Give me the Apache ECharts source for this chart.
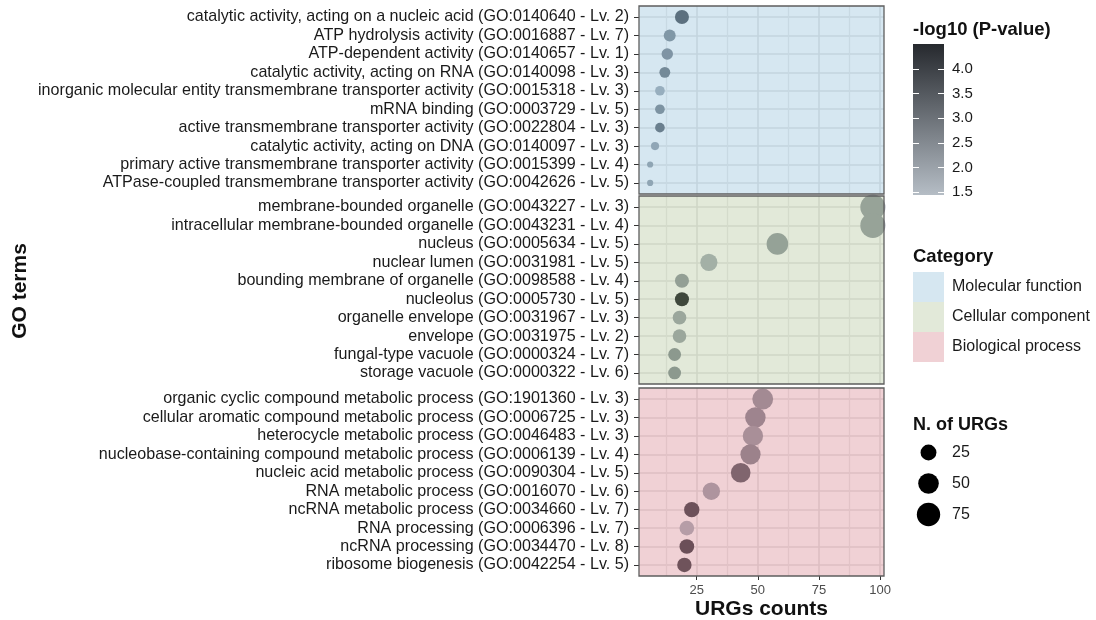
<!DOCTYPE html>
<html>
<head>
<meta charset="utf-8">
<script src="https://cdn.jsdelivr.net/npm/echarts@6/dist/echarts.min.js"></script>
<style>
html,body{margin:0;padding:0;background:#fff;}
#chart{width:1096px;height:620px;}
</style>
</head>
<body>
<div id="chart"></div>
<script>
// ---------------- data ----------------
const mfTerms = [
  "catalytic activity, acting on a nucleic acid (GO:0140640 - Lv. 2)",
  "ATP hydrolysis activity (GO:0016887 - Lv. 7)",
  "ATP-dependent activity (GO:0140657 - Lv. 1)",
  "catalytic activity, acting on RNA (GO:0140098 - Lv. 3)",
  "inorganic molecular entity transmembrane transporter activity (GO:0015318 - Lv. 3)",
  "mRNA binding (GO:0003729 - Lv. 5)",
  "active transmembrane transporter activity (GO:0022804 - Lv. 3)",
  "catalytic activity, acting on DNA (GO:0140097 - Lv. 3)",
  "primary active transmembrane transporter activity (GO:0015399 - Lv. 4)",
  "ATPase-coupled transmembrane transporter activity (GO:0042626 - Lv. 5)"
];
const mfCounts = [19, 14, 13, 12, 10, 10, 10, 8, 6, 6];
const mfLogP   = [3.35, 2.3, 2.35, 2.65, 1.65, 2.4, 2.95, 1.85, 1.9, 1.9];

const ccTerms = [
  "membrane-bounded organelle (GO:0043227 - Lv. 3)",
  "intracellular membrane-bounded organelle (GO:0043231 - Lv. 4)",
  "nucleus (GO:0005634 - Lv. 5)",
  "nuclear lumen (GO:0031981 - Lv. 5)",
  "bounding membrane of organelle (GO:0098588 - Lv. 4)",
  "nucleolus (GO:0005730 - Lv. 5)",
  "organelle envelope (GO:0031967 - Lv. 3)",
  "envelope (GO:0031975 - Lv. 2)",
  "fungal-type vacuole (GO:0000324 - Lv. 7)",
  "storage vacuole (GO:0000322 - Lv. 6)"
];
const ccCounts = [97, 97, 58, 30, 19, 19, 18, 18, 16, 16];
const ccLogP   = [2.0, 2.0, 2.05, 1.65, 2.1, 4.5, 1.9, 1.9, 2.3, 2.3];

const bpTerms = [
  "organic cyclic compound metabolic process (GO:1901360 - Lv. 3)",
  "cellular aromatic compound metabolic process (GO:0006725 - Lv. 3)",
  "heterocycle metabolic process (GO:0046483 - Lv. 3)",
  "nucleobase-containing compound metabolic process (GO:0006139 - Lv. 4)",
  "nucleic acid metabolic process (GO:0090304 - Lv. 5)",
  "RNA metabolic process (GO:0016070 - Lv. 6)",
  "ncRNA metabolic process (GO:0034660 - Lv. 7)",
  "RNA processing (GO:0006396 - Lv. 7)",
  "ncRNA processing (GO:0034470 - Lv. 8)",
  "ribosome biogenesis (GO:0042254 - Lv. 5)"
];
const bpCounts = [52, 49, 48, 47, 43, 31, 23, 21, 21, 20];
const bpLogP   = [2.05, 2.2, 1.9, 2.25, 3.05, 1.75, 3.6, 1.5, 3.65, 3.55];

const categoryNames = ["Molecular function", "Cellular component", "Biological process"];
const xTicks = [25, 50, 75, 100];
const xMinorTicks = [12.5, 37.5, 62.5, 87.5];
const colorbarTicks = [1.5, 2.0, 2.5, 3.0, 3.5, 4.0];
const sizeLegendValues = [25, 50, 75];

// ---------------- styles ----------------
const FONT = "'Liberation Sans', Arial, Helvetica, sans-serif";
const panelColors = ["#d6e7f1", "#e2e9d9", "#f0d1d5"];           // as seen (legend keys)
const panelOverlays = ["rgba(91,159,199,0.25)", "rgba(139,167,103,0.25)", "rgba(195,71,87,0.25)"];
const lowColor = "#b5bdc5", highColor = "#26292e";
const pMin = 1.44, pMax = 4.51;
const xMin = 1.45, xMax = 101.55;
const panelTops = [6, 196, 388];
const panelH = 188, panelLeft = 639, panelW = 245;

function dotSize(v) { return Math.max(3, 6.8 * Math.log(v) - 6.0); }

const termSets = [mfTerms, ccTerms, bpTerms];
const countSets = [mfCounts, ccCounts, bpCounts];
const pSets = [mfLogP, ccLogP, bpLogP];

const grids = [], xAxes = [], yAxes = [], series = [];
const idx10 = mfTerms.map((_, i) => i);

for (let k = 0; k < 3; k++) {
  grids.push({
    left: panelLeft, top: panelTops[k], width: panelW, height: panelH,
    show: true, backgroundColor: panelOverlays[k], z: 3,
    borderColor: '#5e5e5e', borderWidth: 1.3, outerBoundsMode: 'none'
  });
  const isBottom = k === 2;
  // main x axis
  xAxes.push({
    type: 'value', gridIndex: k, min: xMin, max: xMax, position: 'bottom',
    axisLine: { show: false, onZero: false },
    axisTick: { show: isBottom, customValues: xTicks, length: 4, lineStyle: { color: '#333', width: 1 } },
    axisLabel: { show: isBottom, customValues: xTicks, margin: 8, fontSize: 13, color: '#4d4d4d', fontFamily: FONT },
    splitLine: { show: true, lineStyle: { color: '#e6e6e6', width: 1.6 } },
    name: isBottom ? 'URGs counts' : '',
    nameLocation: 'middle', nameGap: 23,
    nameTextStyle: { fontSize: 21, fontWeight: 'bold', color: '#111', fontFamily: FONT }
  });
  // minor x axis (gridlines only)
  xAxes.push({
    type: 'value', gridIndex: k, min: xMin, max: xMax, position: 'top',
    axisLine: { show: false, onZero: false },
    axisTick: { show: false, customValues: xMinorTicks },
    axisLabel: { show: false, customValues: xMinorTicks },
    splitLine: { show: true, lineStyle: { color: '#ececec', width: 1.2 } }
  });
  const terms = termSets[k];
  yAxes.push({
    type: 'value', gridIndex: k, min: -0.6, max: 9.6, inverse: true, position: 'left',
    axisLine: { show: false, onZero: false },
    axisTick: { show: true, customValues: idx10, length: 5, lineStyle: { color: '#333', width: 1 } },
    axisLabel: {
      show: true, customValues: idx10, margin: 10, fontSize: 16.1, color: '#1a1a1a', fontFamily: FONT,
      formatter: v => terms[Math.round(v)]
    },
    splitLine: { show: true, lineStyle: { color: '#e6e6e6', width: 1.6 } }
  });
  series.push({
    type: 'scatter', name: categoryNames[k],
    xAxisIndex: 2 * k, yAxisIndex: k, z: 2,
    data: countSets[k].map((c, i) => [c, i, pSets[k][i]]),
    symbolSize: v => dotSize(v[0]),
    itemStyle: { opacity: 1 },
    clip: true
  });
}

// colorbar grid (index 3)
grids.push({
  left: 913, top: 44, width: 31, height: 151, show: true,
  backgroundColor: { type: 'linear', x: 0, y: 0, x2: 0, y2: 1,
    colorStops: [{ offset: 0, color: highColor }, { offset: 1, color: lowColor }] },
  borderWidth: 0, outerBoundsMode: 'none'
});
xAxes.push({ type: 'value', gridIndex: 3, show: false, min: 0, max: 1 });
yAxes.push({
  type: 'value', gridIndex: 3, min: pMin, max: pMax, position: 'left',
  axisLine: { show: false, onZero: false },
  axisTick: { show: true, inside: true, length: 6, customValues: colorbarTicks, lineStyle: { color: '#fff', width: 1 } },
  axisLabel: { show: false, customValues: colorbarTicks },
  splitLine: { show: false }
});
yAxes.push({
  type: 'value', gridIndex: 3, min: pMin, max: pMax, position: 'right',
  axisLine: { show: false, onZero: false },
  axisTick: { show: true, inside: true, length: 6, customValues: colorbarTicks, lineStyle: { color: '#fff', width: 1 } },
  axisLabel: { show: true, customValues: colorbarTicks, margin: 8, fontSize: 15, color: '#1a1a1a', fontFamily: FONT,
    formatter: v => v.toFixed(1) },
  splitLine: { show: false }
});

// size legend grid (index 4)
grids.push({ left: 913, top: 437, width: 31, height: 93, show: false, outerBoundsMode: 'none' });
xAxes.push({ type: 'value', gridIndex: 4, show: false, min: -1, max: 1 });
yAxes.push({
  type: 'category', gridIndex: 4, position: 'right', inverse: true,
  data: sizeLegendValues.map(String),
  axisLine: { show: false, onZero: false }, axisTick: { show: false }, splitLine: { show: false },
  axisLabel: { margin: 8, fontSize: 16, color: '#1a1a1a', fontFamily: FONT }
});
series.push({
  type: 'scatter', name: 'N. of URGs',
  xAxisIndex: 7, yAxisIndex: 5,
  data: sizeLegendValues.map((v, i) => [0, i, v]),
  symbolSize: v => dotSize(v[2]),
  itemStyle: { color: '#000', opacity: 1 },
  silent: true
});

const option = {
  animation: false,
  backgroundColor: '#fff',
  textStyle: { fontFamily: FONT },
  grid: grids,
  xAxis: xAxes,
  yAxis: yAxes,
  visualMap: {
    type: 'continuous', show: false, dimension: 2, seriesIndex: [0, 1, 2],
    min: pMin, max: pMax, inRange: { color: [lowColor, highColor] }
  },
  title: [
    { text: '-log10 (P-value)', left: 913, top: 20, padding: 0,
      textStyle: { fontSize: 18.5, fontWeight: 'bold', color: '#111', lineHeight: 20, fontFamily: FONT } },
    { text: 'Category', left: 913, top: 247, padding: 0,
      textStyle: { fontSize: 18.5, fontWeight: 'bold', color: '#111', lineHeight: 20, fontFamily: FONT } },
    { text: 'N. of URGs', left: 913, top: 415, padding: 0,
      textStyle: { fontSize: 18, fontWeight: 'bold', color: '#111', lineHeight: 20, fontFamily: FONT } }
  ],
  legend: {
    orient: 'vertical', left: 913, top: 272, padding: 0,
    itemWidth: 31, itemHeight: 30, itemGap: 0, icon: 'rect', selectedMode: false,
    textStyle: { fontSize: 16, color: '#1a1a1a', fontFamily: FONT, padding: [0, 0, 0, 3] },
    data: categoryNames.map((n, i) => ({ name: n, icon: 'rect', itemStyle: { color: panelColors[i], opacity: 1, borderWidth: 0 } }))
  },
  graphic: [
    { type: 'text', x: 20, y: 291, rotation: Math.PI / 2,
      style: { text: 'GO terms', font: 'bold 21px ' + FONT, fill: '#111', textAlign: 'center', textVerticalAlign: 'middle' } }
  ],
  series: series
};

const chart = echarts.init(document.getElementById('chart'), null, { renderer: 'canvas' });
chart.setOption(option);
</script>
</body>
</html>
